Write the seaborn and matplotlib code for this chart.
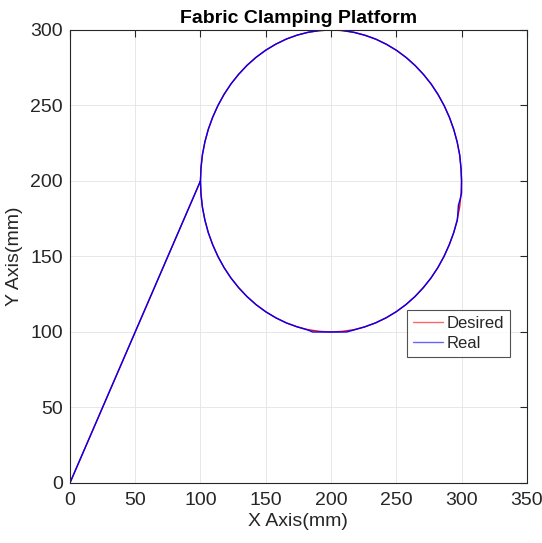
import seaborn as sns
import matplotlib.pyplot as plt
import pandas as pd

# Desired trajectory: ramp from origin, then the circle around (200, 200)
desired_x = [0, 100.0, 100.4, 101.5, 103.4, 106.0, 109.4, 113.4, 118.1, 123.4, 129.3,
             135.7, 142.6, 150.0, 157.7, 165.8, 174.1, 182.6, 191.3, 200.0,
             208.7, 217.4, 225.9, 234.2, 242.3, 250.0, 257.4, 264.3, 270.7,
             276.6, 281.9, 286.6, 290.6, 294.0, 296.6, 298.5, 299.6, 300.0,
             299.6, 298.5, 296.6, 294.0, 290.6, 286.6, 281.9, 276.6, 270.7,
             264.3, 257.4, 250.0, 242.3, 234.2, 225.9, 217.4, 208.7, 200.0,
             191.3, 182.6, 174.1, 165.8, 157.7, 150.0, 142.6, 135.7, 129.3,
             123.4, 118.1, 113.4, 109.4, 106.0, 103.4, 101.5, 100.4, 100.0]
desired_y = [0, 200.0, 208.7, 217.4, 225.9, 234.2, 242.3, 250.0, 257.4, 264.3, 270.7,
             276.6, 281.9, 286.6, 290.6, 294.0, 296.6, 298.5, 299.6, 300.0,
             299.6, 298.5, 296.6, 294.0, 290.6, 286.6, 281.9, 276.6, 270.7,
             264.3, 257.4, 250.0, 242.3, 234.2, 225.9, 217.4, 208.7, 200.0,
             191.3, 182.6, 174.1, 165.8, 157.7, 150.0, 142.6, 135.7, 129.3,
             123.4, 118.1, 113.4, 109.4, 106.0, 103.4, 101.5, 100.4, 100.0,
             100.4, 101.5, 103.4, 106.0, 109.4, 113.4, 118.1, 123.4, 129.3,
             135.7, 142.6, 150.0, 157.7, 165.8, 174.1, 182.6, 191.3, 200.0]

# Real (measured) trajectory, with the small deviations seen on the plot
real_x = [0, 100.0, 100.4, 101.5, 103.4, 106.0, 109.4, 113.4, 118.1, 123.4, 129.3,
          135.7, 142.6, 150.0, 157.7, 165.8, 174.1, 182.6, 191.3, 200.0,
          205.0, 209.0, 217.6, 226.2, 234.6, 242.7, 250.4, 257.8, 264.6, 271.0,
          276.9, 282.1, 286.8, 290.8, 294.1, 296.7, 298.6, 299.6, 300.0,
          300.0, 298.8, 297.6, 296.8, 294.0, 290.5, 286.5, 281.8, 276.5, 270.6,
          264.2, 257.3, 249.9, 242.2, 234.0, 225.5, 217.0, 212.0, 200.0,
          186.0, 182.6, 174.1, 165.8, 157.7, 150.0, 142.6, 135.7, 129.3,
          123.4, 118.1, 113.4, 109.4, 106.0, 103.4, 101.5, 100.4, 100.0]
real_y = [0, 200.0, 208.7, 217.4, 225.9, 234.2, 242.3, 250.0, 257.4, 264.3, 270.7,
          276.6, 281.9, 286.6, 290.6, 294.0, 296.6, 298.5, 299.6, 300.0,
          300.0, 299.6, 298.4, 296.4, 293.8, 290.4, 286.4, 281.6, 276.3, 270.4,
          264.0, 257.1, 249.7, 242.0, 233.9, 225.7, 217.2, 208.0, 200.0,
          192.0, 187.5, 184.0, 174.1, 165.8, 157.7, 150.0, 142.6, 135.7, 129.3,
          123.4, 118.1, 113.4, 109.4, 106.0, 103.3, 101.2, 100.0, 100.0,
          100.0, 101.2, 103.4, 106.0, 109.4, 113.4, 118.1, 123.4, 129.3,
          135.7, 142.6, 150.0, 157.7, 165.8, 174.1, 182.6, 191.3, 200.0]

x_ticks = [0, 50, 100, 150, 200, 250, 300, 350]
y_ticks = [0, 50, 100, 150, 200, 250, 300]

df_d = pd.DataFrame({'x': desired_x, 'y': desired_y})
df_r = pd.DataFrame({'x': real_x, 'y': real_y})

sns.set_style('white')
plt.rcParams['font.family'] = ['Liberation Sans', 'DejaVu Sans']

fig = plt.figure(figsize=(5.42, 5.43), dpi=100)
ax = fig.add_axes([0.129, 0.1105, 0.843, 0.8343])

sns.lineplot(x='x', y='y', data=df_d, sort=False, estimator=None, color='#ff0000',
             linewidth=1.0, label='Desired', ax=ax)
sns.lineplot(x='x', y='y', data=df_r, sort=False, estimator=None, color='#0000ff',
             linewidth=1.0, label='Real', ax=ax)

ax.set_xlim(0, 350)
ax.set_ylim(0, 300)
ax.set_xticks(x_ticks)
ax.set_yticks(y_ticks)
ax.grid(True, color='#e3e3e3', linewidth=0.6)
ax.tick_params(direction='in', top=True, right=True, labelsize=14, length=5,
               width=0.8, color='#262626', labelcolor='#262626')
ax.tick_params(axis='x', pad=6.5)
ax.tick_params(axis='y', pad=5)
for s in ax.spines.values():
    s.set_color('#262626')
    s.set_linewidth(0.8)

ax.set_xlabel('X Axis(mm)', fontsize=14, color='#262626', labelpad=3)
ax.set_ylabel('Y Axis(mm)', fontsize=14, color='#262626', labelpad=5)
ax.set_title('Fabric Clamping Platform', fontsize=14, fontweight='bold',
             color='black', pad=5)

leg = ax.legend(loc='upper right', bbox_to_anchor=(0.963, 0.382),
                fontsize=12, frameon=True, fancybox=False, handlelength=1.8,
                borderpad=0.35, labelspacing=0.3, handletextpad=0.2,
                borderaxespad=0)
leg.get_frame().set_edgecolor('#262626')
leg.get_frame().set_linewidth(0.8)
for line in leg.get_lines():
    line.set_alpha(0.6)

fig.savefig('out.png', dpi=100)
